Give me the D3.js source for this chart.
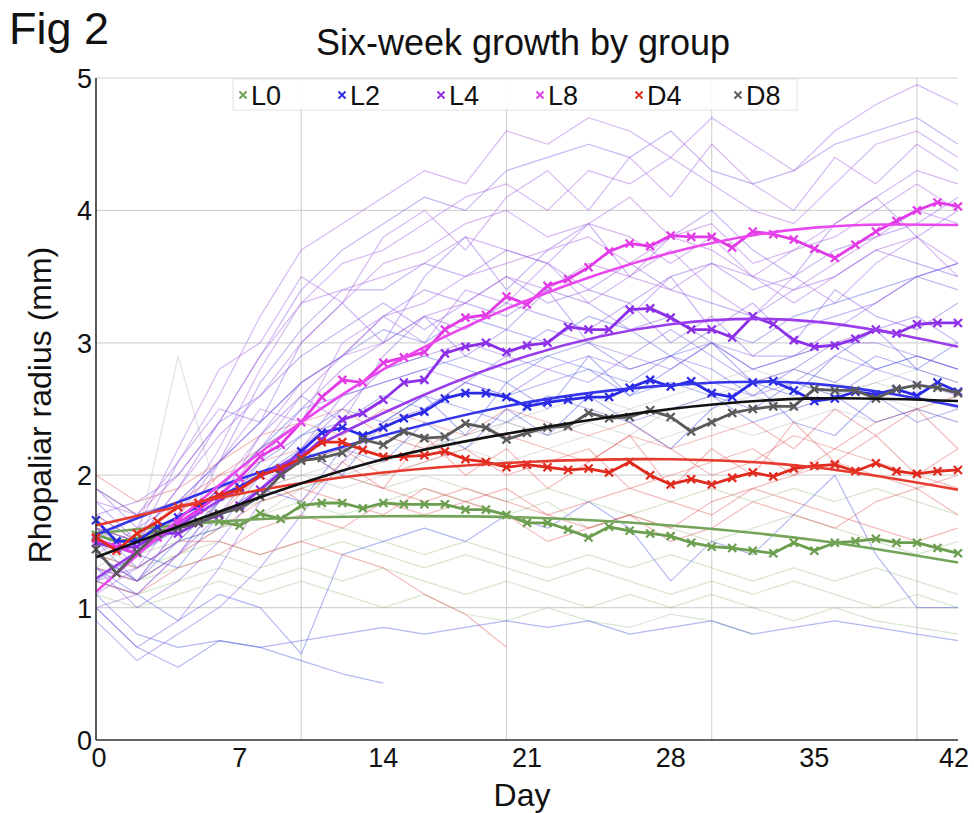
<!DOCTYPE html>
<html>
<head>
<meta charset="utf-8">
<script src="https://cdn.jsdelivr.net/npm/d3@7"></script>
<style>
  html, body { margin: 0; padding: 0; background: #fff; }
  svg { display: block; font-family: "Liberation Sans", Arial, sans-serif; }
</style>
</head>
<body>
<svg id="chart" width="974" height="813"></svg>
<script>
/* --- data --- */

const GROUPS = ["L0", "L2", "L4", "L8", "D4", "D8"];
const X_TICKS = [0, 7, 14, 21, 28, 35, 42];
const Y_TICKS = [0, 1, 2, 3, 4, 5];
const X_GRID = [10, 20, 30, 40];

// group means, one value per day (day 0 .. 42)
const MEAN_L0 = [1.55,1.50,1.52,1.58,1.60,1.65,1.65,1.62,1.71,1.67,1.77,1.79,1.79,1.75,1.79,1.78,1.78,1.78,1.74,1.74,1.70,1.64,1.64,1.59,1.53,1.61,1.58,1.56,1.54,1.49,1.46,1.45,1.43,1.41,1.49,1.43,1.49,1.50,1.52,1.49,1.49,1.45,1.41];
const MEAN_L2 = [1.66,1.50,1.50,1.61,1.68,1.77,1.84,1.91,2.00,2.05,2.18,2.32,2.36,2.30,2.36,2.43,2.48,2.58,2.62,2.62,2.59,2.52,2.55,2.57,2.59,2.59,2.66,2.72,2.67,2.71,2.62,2.59,2.70,2.71,2.64,2.56,2.58,2.63,2.61,2.65,2.60,2.70,2.63];
const MEAN_L4 = [1.49,1.45,1.46,1.56,1.56,1.64,1.70,1.77,1.89,2.02,2.14,2.27,2.42,2.47,2.57,2.70,2.72,2.92,2.97,3.00,2.93,2.98,3.00,3.12,3.10,3.10,3.25,3.26,3.19,3.10,3.10,3.04,3.20,3.14,3.02,2.97,2.98,3.03,3.10,3.07,3.14,3.15,3.15];
const MEAN_L8 = [1.52,1.46,1.41,1.53,1.64,1.74,1.85,1.98,2.14,2.23,2.40,2.59,2.72,2.70,2.85,2.89,2.93,3.10,3.19,3.21,3.35,3.29,3.43,3.48,3.57,3.69,3.75,3.73,3.81,3.80,3.80,3.72,3.84,3.82,3.78,3.71,3.64,3.74,3.84,3.92,4.00,4.06,4.03];
const MEAN_D4 = [1.53,1.43,1.56,1.65,1.76,1.79,1.85,1.89,2.00,2.05,2.13,2.25,2.25,2.19,2.14,2.14,2.15,2.18,2.12,2.10,2.06,2.08,2.06,2.04,2.05,2.02,2.10,2.00,1.93,1.97,1.93,1.98,2.02,1.99,2.05,2.07,2.08,2.03,2.09,2.03,2.01,2.03,2.04];
const MEAN_D8 = [1.44,1.26,1.42,1.56,1.60,1.64,1.71,1.75,1.84,2.00,2.11,2.13,2.17,2.27,2.23,2.33,2.28,2.29,2.39,2.36,2.27,2.32,2.36,2.37,2.47,2.43,2.44,2.49,2.44,2.33,2.40,2.47,2.50,2.52,2.52,2.65,2.64,2.64,2.58,2.65,2.68,2.66,2.62];

// smooth fits, read at the weekly ticks
const FIT_DAYS = [0, 7, 14, 21, 28, 35, 42];
const FIT_L0 = [1.56, 1.66, 1.69, 1.68, 1.62, 1.51, 1.34];
const FIT_L2 = [1.55, 1.97, 2.30, 2.55, 2.68, 2.69, 2.52];
const FIT_L4 = [1.22, 1.90, 2.47, 2.90, 3.14, 3.16, 2.97];
const FIT_L8 = [1.12, 2.05, 2.80, 3.32, 3.68, 3.87, 3.89];
const FIT_D4 = [1.62, 1.86, 2.02, 2.10, 2.12, 2.06, 1.89];
const FIT_D8 = [1.38, 1.78, 2.12, 2.34, 2.50, 2.58, 2.56];

// individual animals, every second day (day 0, 2, 4 ...)
const THIN_L0 = [
  [1.5,1.4,1.5,1.6,1.7,1.8,1.7,1.8,1.9,1.8,1.7,1.8,1.6,1.7,1.6,1.5,1.6,1.7,1.6,1.5,1.4,1.5],
  [1.3,1.2,1.3,1.4,1.3,1.4,1.5,1.4,1.3,1.4,1.3,1.2,1.3,1.2,1.1,1.2,1.1,1.2,1.1,1.0,1.1,1.0],
  [1.6,1.5,1.6,1.7,1.8,1.9,2.0,1.9,2.0,1.9,1.8,1.9,1.8,1.7,1.8,1.9,1.8,1.9,1.8,1.9,1.8,1.7],
  [1.1,1.0,1.1,1.2,1.1,1.2,1.1,1.0,1.1,0.95,0.9,1.0,0.9,0.85,0.95,0.9,0.8],
  [1.4,1.3,1.4,1.5,1.4,1.5,1.6,1.5,1.4,1.5,1.4,1.3,1.4,1.3,1.4,1.3,1.2,1.3,1.2,1.3,1.2,1.1],
  [1.2,1.1,1.2,1.3,1.2,1.3,1.2,1.3,1.2,1.1,1.2,1.1,1.0,1.1,1.0,1.1,1.0,0.9,1.0,0.9,0.85,0.8]
];
const THIN_L2 = [
  [1.7,1.5,1.6,1.9,2.2,2.5,2.6,2.8,2.9,2.8,2.7,2.9,2.8,2.7,2.9,2.8,2.6,2.8,2.7,2.9,2.8,2.7],
  [1.4,1.2,1.4,1.8,2.0,2.3,2.4,2.6,2.5,2.7,2.6,2.7,2.8,2.6,2.7,2.6,2.5,2.7,2.6,2.8,2.9,2.8],
  [1.9,1.7,1.8,2.1,2.4,2.7,2.9,3.1,3.0,3.2,3.1,3.0,3.2,3.1,2.9,3.1,3.0,3.2,3.3,3.4,3.5,3.6],
  [1.3,1.1,0.9,1.1,1.0,0.65,1.4,1.5,1.6,1.5,1.7,1.6,1.8,1.6,1.2,1.5,1.4,1.7,2.0,1.4,1.0,1.0],
  [1.0,0.7,0.55,0.75,0.7,0.6,0.5,0.43],
  [1.6,1.3,1.5,1.8,2.1,2.3,2.5,2.4,2.6,2.5,2.4,2.6,2.5,2.4,2.5,2.6,2.4,2.5,2.6,2.4,2.5,2.4],
  [1.5,1.4,1.6,1.9,2.2,2.4,2.6,2.7,2.8,2.9,2.8,2.9,3.0,2.8,2.9,3.0,2.8,2.9,3.0,2.8,2.9,2.8],
  [1.1,0.8,0.7,0.75,0.7,0.75,0.8,0.85,0.8,0.85,0.9,0.85,0.9,0.8,0.85,0.9,0.8,0.85,0.9,0.85,0.8,0.75],
  [1.5,1.2,1.5,1.6,2.0,2.2,2.0,2.4,2.6,2.3,2.7,2.5,2.9,2.6,2.8,3.0,2.7,2.6,2.9,3.1,2.8,3.0],
  [1.2,1.4,1.3,1.7,1.9,1.8,2.2,2.1,2.4,2.2,2.5,2.3,2.6,2.4,2.2,2.5,2.7,2.4,2.3,2.6,2.4,2.5]
];
const THIN_L4 = [
  [1.5,1.4,1.7,2.1,2.7,3.1,3.4,3.4,3.6,3.5,3.7,3.6,3.4,3.3,3.5,3.6,3.4,3.5,3.7,3.8,3.9,4.1],
  [1.2,1.1,1.4,1.7,2.1,2.5,2.8,3.0,3.2,3.1,3.3,3.2,3.1,3.3,3.0,3.2,2.9,2.9,3.1,3.3,3.5,3.4],
  [1.7,1.8,2.0,2.4,2.6,2.9,3.1,3.3,3.1,3.3,3.2,3.4,3.3,3.1,3.2,3.0,2.8,2.9,3.0,3.1,3.2,3.0],
  [1.3,1.0,1.2,1.5,1.9,2.2,2.5,2.8,2.9,3.0,2.9,3.1,3.0,2.9,3.1,2.9,2.7,2.8,3.0,3.0,2.9,2.8],
  [1.9,1.6,1.8,2.1,2.4,2.7,2.9,3.2,3.4,3.3,3.5,3.3,3.4,3.6,3.4,3.3,3.2,3.4,3.5,3.7,3.6,3.5],
  [1.0,0.7,0.9,1.3,1.8,2.2,2.6,2.7,2.8,2.7,2.9,2.8,2.9,2.8,2.9,2.7,2.6,2.7,2.9,2.8,2.7,2.6],
  [1.6,1.5,1.9,2.4,2.9,3.4,3.7,3.9,4.1,4.0,4.3,4.4,4.5,4.4,4.6,4.3,4.2,4.3,4.5,4.6,4.7,4.5],
  [0.9,0.6,0.8,1.0,1.3,1.7,2.1,2.4,2.5,2.7,2.6,2.8,2.7,2.9,2.8,3.0,2.9,3.1,3.2,3.3,3.5,3.6],
  [1.4,1.2,1.6,1.8,2.3,2.6,2.4,2.9,3.2,2.9,3.1,3.4,3.0,3.2,3.5,3.1,3.3,3.0,3.4,3.2,3.1,3.3],
  [1.8,1.5,2.1,2.5,2.4,3.0,3.3,3.0,3.5,3.8,3.4,3.7,3.9,3.5,3.8,4.0,3.7,3.5,3.9,4.1,3.8,4.0]
];
const THIN_L8 = [
  [1.5,1.7,2.1,2.6,3.2,3.7,3.9,4.1,4.3,4.2,4.6,4.5,4.7,4.6,4.4,4.7,4.5,4.3,4.6,4.8,4.95,4.8],
  [1.2,1.3,1.7,2.2,2.8,3.3,3.6,3.7,3.9,4.1,4.2,4.0,4.3,4.2,4.4,4.2,4.0,3.9,4.2,4.5,4.6,4.4],
  [1.6,1.5,1.9,2.3,2.6,3.0,3.3,3.6,3.7,3.9,4.0,3.8,3.9,4.1,3.8,3.9,3.6,3.7,3.9,4.1,4.3,4.2],
  [1.0,1.1,1.4,1.8,2.2,2.6,2.9,3.2,3.3,3.5,3.6,3.7,3.8,3.6,3.8,3.7,3.5,3.4,3.6,3.8,4.0,3.9],
  [1.8,1.7,2.0,2.4,2.9,3.3,3.4,3.5,3.6,3.8,3.7,3.6,3.9,3.8,3.6,3.8,3.5,3.3,3.5,3.7,3.8,3.6],
  [1.3,1.2,1.6,1.9,2.3,2.7,2.9,3.0,3.2,3.3,3.5,3.4,3.6,3.5,3.4,3.6,3.5,3.7,3.8,4.0,4.2,4.0],
  [1.4,1.6,2.2,2.8,3.0,3.5,3.3,3.8,4.0,3.7,4.1,4.3,4.0,4.4,4.1,4.5,4.2,4.0,4.4,4.2,4.5,4.3],
  [1.1,1.3,1.5,2.1,2.5,2.4,3.0,3.2,3.0,3.4,3.3,3.6,3.3,3.5,3.7,3.4,3.2,3.5,3.3,3.6,3.8,3.5]
];
const THIN_D4 = [
  [1.5,1.4,1.7,2.0,2.2,2.4,2.3,2.5,2.4,2.3,2.5,2.4,2.3,2.4,2.2,2.3,2.4,2.2,2.5,2.3,2.5,2.6],
  [1.6,1.5,1.6,1.9,2.0,2.1,2.2,2.0,2.1,2.2,2.0,2.1,2.2,1.9,2.0,2.1,2.2,2.0,2.1,2.0,1.9,2.0],
  [1.9,1.7,1.8,2.0,2.1,2.2,2.0,1.9,1.8,1.9,1.8,1.7,1.8,1.9,1.8,1.7,1.9,1.8,1.7,1.6,1.5,1.6],
  [1.3,1.2,1.4,1.6,1.8,1.9,1.8,1.7,1.9,1.8,1.7,1.5,1.6,1.7,1.6,1.8,1.9,2.0,2.2,2.4,2.5,2.2],
  [1.4,1.3,1.5,1.5,1.4,1.5,1.4,1.3,1.1,0.95,0.7],
  [2.0,1.8,1.9,2.1,2.3,2.4,2.5,2.3,2.2,2.4,2.3,2.2,2.1,2.3,2.2,2.0,2.1,2.3,2.2,2.1,2.0,1.9],
  [1.2,1.1,1.3,1.4,1.6,1.7,1.6,1.8,1.7,1.8,1.9,1.7,1.6,1.7,1.5,1.6,1.8,1.7,1.6,1.8,1.9,1.7],
  [1.7,1.5,1.8,1.7,2.0,1.8,2.1,1.9,2.3,2.0,2.2,1.9,2.1,2.3,1.9,2.2,2.0,2.4,2.1,2.3,2.0,2.2]
];
const THIN_D8 = [
  [1.4,1.2,1.4,1.6,1.7,1.9,2.0,2.1,2.2,2.3,2.4,2.3,2.4,2.5,2.4,2.5,2.6,2.5,2.6,2.7,2.6,2.5],
  [1.5,1.3,1.5,1.8,2.0,2.1,2.2,2.3,2.2,2.3,2.4,2.5,2.6,2.5,2.6,2.7,2.8,2.7,2.6,2.7,2.8,2.7],
  [1.3,1.5,2.9,1.8,1.9,2.0,2.1,2.2,2.3,2.2,2.4,2.3,2.4,2.3,2.5,2.6,2.7,2.8,2.7,2.6,2.5,2.6],
  [1.6,1.4,1.6,1.7,1.9,2.0,1.9,2.0,2.1,2.2,2.1,2.2,2.3,2.2,2.3,2.4,2.3,2.4,2.5,2.4,2.5,2.4]
];

// --- colours ---
const COLORS = { L0: "#6b9e4e", L2: "#2a2ae6", L4: "#8d2fe8", L8: "#e23ae6", D4: "#e12a1e", D8: "#5a5a5a" };
const FIT_COLORS = { L0: "#73a45a", L2: "#3434ea", L4: "#9a3cec", L8: "#ea48ee", D4: "#e63a2e", D8: "#111111" };
const THIN_COLORS = { L0: "#7fb06a", L2: "#4a58e0", L4: "#8a5ce2", L8: "#a667e0", D4: "#e05050", D8: "#9a9a9a" };
const THIN_ALPHA = { L0: 0.3, L2: 0.42, L4: 0.45, L8: 0.45, D4: 0.38, D8: 0.3 };

const MEANS = { L0: MEAN_L0, L2: MEAN_L2, L4: MEAN_L4, L8: MEAN_L8, D4: MEAN_D4, D8: MEAN_D8 };
const FITS = { L0: FIT_L0, L2: FIT_L2, L4: FIT_L4, L8: FIT_L8, D4: FIT_D4, D8: FIT_D8 };
const THINS = { L0: THIN_L0, L2: THIN_L2, L4: THIN_L4, L8: THIN_L8, D4: THIN_D4, D8: THIN_D8 };

// --- setup ---
const svg = d3.select("#chart");
const W = 974, H = 813;
const x = d3.scaleLinear().domain([0, 42]).range([96, 958]);
const y = d3.scaleLinear().domain([0, 5]).range([740, 78]);

svg.append("rect").attr("width", W).attr("height", H).attr("fill", "#fff");

// grid
svg.append("g").selectAll("line").data(Y_TICKS.filter(d => d > 0)).join("line")
  .attr("x1", x(0)).attr("x2", x(42))
  .attr("y1", d => y(d)).attr("y2", d => y(d))
  .attr("stroke", "#d4d4d4").attr("stroke-width", 1.2);
svg.append("g").selectAll("line").data(X_GRID).join("line")
  .attr("x1", d => x(d)).attr("x2", d => x(d))
  .attr("y1", y(0)).attr("y2", y(5))
  .attr("stroke", "#d4d4d4").attr("stroke-width", 1.2);

// thin lines (every second day)
const thinLine = d3.line().x((d, i) => x(i * 2)).y(d => y(d));
const gThin = svg.append("g");
["L0", "D8", "D4", "L2", "L4", "L8"].forEach(g => {
  gThin.selectAll(null).data(THINS[g]).join("path")
    .attr("d", thinLine)
    .attr("fill", "none")
    .attr("stroke", THIN_COLORS[g])
    .attr("stroke-opacity", THIN_ALPHA[g])
    .attr("stroke-width", 1.2)
    .attr("stroke-linejoin", "round");
});

// fits + means
const fitLine = d3.line().x((d, i) => x(FIT_DAYS[i])).y(d => y(d)).curve(d3.curveNatural);
const meanLine = d3.line().x((d, i) => x(i)).y(d => y(d));
const cross = "M-4,-4L4,4M4,-4L-4,4";

GROUPS.forEach(g => {
  const gg = svg.append("g");
  gg.append("path").attr("d", meanLine(MEANS[g]))
    .attr("fill", "none").attr("stroke", COLORS[g]).attr("stroke-width", 2.8)
    .attr("stroke-linejoin", "round");
  gg.selectAll("path.mk").data(MEANS[g]).join("path").attr("class", "mk")
    .attr("transform", (d, i) => `translate(${x(i)},${y(d)})`)
    .attr("d", cross).attr("stroke", COLORS[g]).attr("stroke-width", 2.2).attr("fill", "none");
  gg.append("path").attr("d", fitLine(FITS[g]))
    .attr("fill", "none").attr("stroke", FIT_COLORS[g]).attr("stroke-width", 2.6);
});

// axes
svg.append("line").attr("x1", x(0)).attr("x2", x(0)).attr("y1", y(0)).attr("y2", y(5))
  .attr("stroke", "#333").attr("stroke-width", 1.6);
svg.append("line").attr("x1", x(0)).attr("x2", x(42)).attr("y1", y(0)).attr("y2", y(0))
  .attr("stroke", "#333").attr("stroke-width", 1.6);

svg.append("g").selectAll("text").data(Y_TICKS).join("text")
  .attr("x", 92).attr("y", d => y(d) + 10)
  .attr("text-anchor", "end").attr("font-size", 27).attr("fill", "#111")
  .text(d => d);
svg.append("g").selectAll("text").data(X_TICKS).join("text")
  .attr("x", d => x(d) + (d === 0 ? 3 : d === 42 ? -4 : 0)).attr("y", 767)
  .attr("text-anchor", "middle").attr("font-size", 27).attr("fill", "#111")
  .text(d => d);

// axis titles
svg.append("text").attr("x", 522).attr("y", 806)
  .attr("text-anchor", "middle").attr("font-size", 32).attr("fill", "#111").text("Day");
svg.append("text").attr("transform", "translate(51,405) rotate(-90)")
  .attr("text-anchor", "middle").attr("font-size", 32).attr("fill", "#111").text("Rhopaliar radius (mm)");

// titles
svg.append("text").attr("x", 523).attr("y", 55)
  .attr("text-anchor", "middle").attr("font-size", 36).attr("fill", "#111").text("Six-week growth by group");
svg.append("text").attr("x", 9).attr("y", 44)
  .attr("font-size", 45).attr("fill", "#111").text("Fig 2");

// legend
const leg = svg.append("g");
leg.append("rect").attr("x", 233).attr("y", 79).attr("width", 564).attr("height", 31)
  .attr("fill", "#fff").attr("fill-opacity", 0.85).attr("stroke", "#e2e2e2");
const li = leg.selectAll("g").data(GROUPS).join("g")
  .attr("transform", (d, i) => `translate(${243 + i * 99},95)`);
li.append("path").attr("d", "M-3.5,-3.5L3.5,3.5M3.5,-3.5L-3.5,3.5")
  .attr("stroke", d => COLORS[d]).attr("stroke-width", 1.8);
li.append("text").attr("x", 8).attr("y", 10).attr("font-size", 27).attr("fill", "#111").text(d => d);
</script>
</body>
</html>
